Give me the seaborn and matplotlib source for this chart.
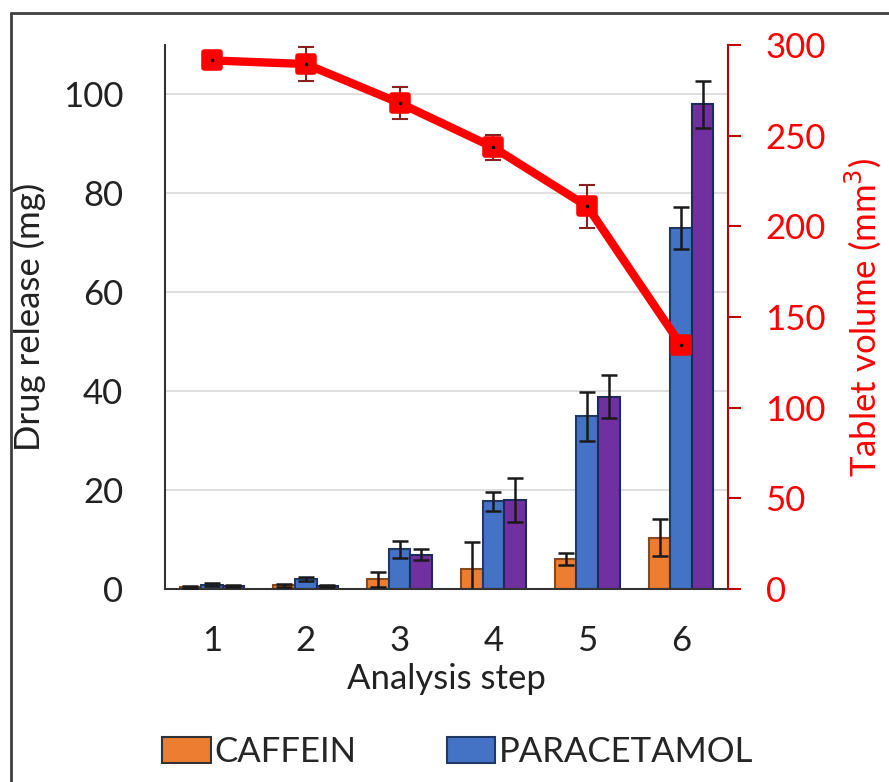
import numpy as np
import pandas as pd
import seaborn as sns
import matplotlib.pyplot as plt
from matplotlib.patches import Patch
from matplotlib.lines import Line2D
from matplotlib.markers import MarkerStyle

# Data
steps = ["1", "2", "3", "4", "5", "6"]
caffein = [0.5, 0.8, 2.0, 4.0, 6.0, 10.4]
caffein_err = [0.2, 0.3, 1.5, 5.5, 1.2, 3.8]
paracetamol = [0.9, 2.0, 8.0, 17.7, 34.9, 73.0]
paracetamol_err = [0.3, 0.4, 1.8, 1.9, 5.0, 4.2]
third = [0.6, 0.6, 6.9, 18.0, 38.9, 98.0]
third_err = [0.2, 0.2, 1.1, 4.4, 4.4, 4.8]
volume = [291.5, 289.5, 268.0, 243.5, 211.0, 134.5]
volume_err = [3.0, 9.3, 9.0, 6.9, 12.0, 3.0]

series_names = ["CAFFEIN", "PARACETAMOL", "SERIES 3"]
series_colors = ["#ED7D31", "#4472C4", "#7030A0"]
series_edges = ["#8A4A1C", "#1F3864", "#1F2A5C"]

df = pd.DataFrame({
    "step": steps * 3,
    "release": caffein + paracetamol + third,
    "drug": [series_names[0]] * 6 + [series_names[1]] * 6 + [series_names[2]] * 6,
})
errs = [caffein_err, paracetamol_err, third_err]

sns.set_style("white")
plt.rcParams["font.family"] = ["Lato", "DejaVu Sans"]
FS = 25

fig = plt.figure(figsize=(8.89, 7.82), dpi=100)
ax = fig.add_axes([165 / 889, 1 - 589 / 782, (728 - 165) / 889, (589 - 45) / 782])

sns.barplot(data=df, x="step", y="release", hue="drug", palette=series_colors,
            saturation=1, errorbar=None, width=0.69, gap=0, linewidth=1.5, ax=ax,
            legend=False, zorder=2)

for cont, err, edge in zip(ax.containers, errs, series_edges):
    xs = [p.get_x() + p.get_width() / 2 for p in cont.patches]
    hs = [p.get_height() for p in cont.patches]
    for p in cont.patches:
        p.set_edgecolor(edge)
    ax.errorbar(xs, hs, yerr=err, fmt="none", ecolor="#1a1a1a", elinewidth=1.8,
                capsize=6, capthick=1.8, zorder=3)

ax.set_ylim(0, 110)
ax.set_xlim(-0.5, 5.5)
ax.set_yticks([0, 20, 40, 60, 80, 100])
ax.yaxis.grid(True, color="#d9d9d9", linewidth=1.2)
ax.set_axisbelow(True)
for s in ["top", "right"]:
    ax.spines[s].set_visible(False)
ax.spines["left"].set_color("#333333")
ax.spines["bottom"].set_color("#333333")
ax.spines["left"].set_linewidth(1.5)
ax.spines["bottom"].set_linewidth(1.5)
ax.tick_params(axis="both", length=0, labelsize=FS, colors="#222222")
ax.tick_params(axis="x", pad=26)
ax.tick_params(axis="y", pad=30)
ax.set_xlabel("Analysis step", fontsize=FS, color="#222222", labelpad=4)
ax.set_ylabel("Drug release (mg)", fontsize=FS, color="#222222", labelpad=12)

# Right axis: tablet volume
red = "#FF0000"
dark_red = "#C00000"
ax2 = ax.twinx()
x_pos = np.arange(len(steps))
ax2.errorbar(x_pos, volume, yerr=volume_err, fmt="none", ecolor="#8B2020",
             elinewidth=1.5, capsize=6, capthick=1.5, zorder=3)
sns.lineplot(x=x_pos, y=volume, color=red, linewidth=6,
             marker=MarkerStyle("s", joinstyle="round"), markersize=12,
             markeredgewidth=4, markeredgecolor=red, markerfacecolor=red,
             ax=ax2, zorder=4)
ax2.plot(x_pos, volume, linestyle="none", marker=".", markersize=3, color="black", zorder=5)
ax2.set_ylim(0, 300)
ax2.set_yticks([0, 50, 100, 150, 200, 250, 300])
for s in ["top", "left", "bottom"]:
    ax2.spines[s].set_visible(False)
ax2.spines["right"].set_color(dark_red)
ax2.spines["right"].set_linewidth(1.5)
ax2.tick_params(axis="y", colors=dark_red, labelcolor=red, length=9, width=1.5,
                labelsize=FS, pad=18)
ax2.set_ylabel("Tablet volume (mm$^3$)", fontsize=FS, color=red, labelpad=12)
ax2.set_xlim(-0.5, 5.5)

# Legend at bottom (third entry cut off in the original)
handles = [Patch(facecolor=series_colors[0], edgecolor="#333333", linewidth=1.5),
           Patch(facecolor=series_colors[1], edgecolor="#1F3864", linewidth=1.5)]
fig.legend(handles, series_names[:2], loc="center", bbox_to_anchor=(0.515, 1 - 752 / 782),
           ncol=2, frameon=False, fontsize=FS, handlelength=1.4, handleheight=0.75,
           handletextpad=0.1, columnspacing=2.6)

# Chart area border
fig.add_artist(Line2D([11 / 889, 1], [1 - 13 / 782, 1 - 13 / 782], color="#404040",
                      linewidth=2, transform=fig.transFigure))
fig.add_artist(Line2D([11 / 889, 11 / 889], [0, 1 - 13 / 782], color="#404040",
                      linewidth=2, transform=fig.transFigure))

fig.savefig("out.png", dpi=100)
